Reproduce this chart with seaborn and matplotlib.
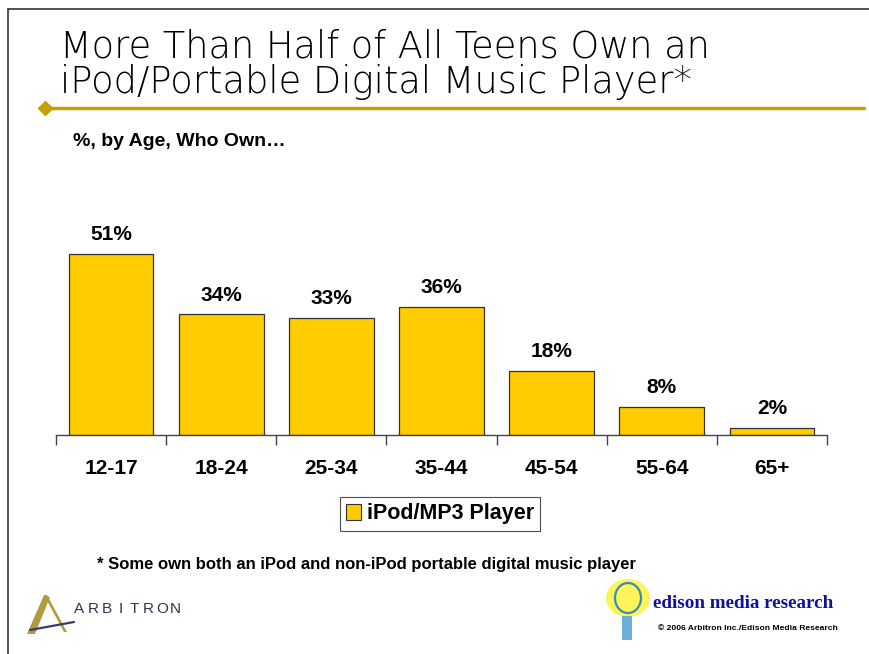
import matplotlib
matplotlib.use("Agg")
import matplotlib.pyplot as plt
from matplotlib.patches import Rectangle, Polygon, Ellipse
from matplotlib.lines import Line2D
import seaborn as sns
import pandas as pd

# chart data
ages = ["12-17", "18-24", "25-34", "35-44", "45-54", "55-64", "65+"]
owners = [51, 34, 33, 36, 18, 8, 2]
series_name = "iPod/MP3 Player"

title_lines = ["More Than Half of All Teens Own an", "iPod/Portable Digital Music Player*"]
subtitle_text = "%, by Age, Who Own\u2026"
footnote_text = "* Some own both an iPod and non-iPod portable digital music player"

df = pd.DataFrame({"Age": ages, "Pct": owners})

sns.set_style("white")
plt.rcParams["font.family"] = ["Liberation Sans", "DejaVu Sans"]
plt.rcParams["text.color"] = "black"
plt.rcParams["xtick.color"] = "black"

W, H = 869, 654
fig = plt.figure(figsize=(W / 100, H / 100), dpi=100)

def fx(px):
    return px / W

def fy(py):
    return 1 - py / H

# plot area
ax = fig.add_axes([fx(56), fy(435), fx(827) - fx(56), fy(222) - fy(435)])
sns.barplot(data=df, x="Age", y="Pct", color="#FFCC00", width=0.77,
            edgecolor="#333333", linewidth=0.9, saturation=1, ax=ax)
ax.set_ylim(0, 60)
ax.set_xlim(-0.5, len(ages) - 0.5)
ax.set_xlabel("")
ax.set_ylabel("")
ax.set_yticks([])
for s in ["top", "right", "left"]:
    ax.spines[s].set_visible(False)
ax.spines["bottom"].set_color("#444444")
ax.spines["bottom"].set_linewidth(1.0)

ax.set_xticks(range(len(ages)))
ax.set_xticklabels(ages, fontsize=15, fontweight="bold")
ax.tick_params(axis="x", which="major", length=0, pad=17, labelcolor="black")
ax.set_xticks([i - 0.5 for i in range(len(ages) + 1)], minor=True)
ax.tick_params(axis="x", which="minor", bottom=True, length=7, width=1.0,
               color="#444444", direction="out")

for i, v in enumerate(owners):
    ax.annotate(f"{v}%", (i, v), xytext=(0, 7), textcoords="offset points",
                ha="center", va="bottom", fontsize=15, fontweight="bold")

# legend
handle = Rectangle((0, 0), 1, 1, facecolor="#FFCC00", edgecolor="#333333", linewidth=0.8)
leg = fig.legend([handle], [series_name], loc="center", bbox_to_anchor=(fx(440), fy(514)),
                 frameon=True, fancybox=False, prop={"weight": "bold", "size": 15.5},
                 handlelength=0.7, handleheight=0.7, handletextpad=0.25,
                 borderpad=0.3, borderaxespad=0)
leg.get_frame().set_edgecolor("#222222")
leg.get_frame().set_linewidth(0.8)

# slide frame
fig.add_artist(Line2D([fx(8), 1], [fy(9), fy(9)], color="#333333", lw=1.2))
fig.add_artist(Line2D([fx(8), fx(8)], [fy(9), 0], color="#333333", lw=1.2))

# title and gold rule
fig.text(fx(60), fy(58), title_lines[0], fontsize=26.5, va="baseline", ha="left",
         family=["DejaVu Sans"], fontweight="light", color="#000000")
fig.text(fx(60), fy(93), title_lines[1], fontsize=26.5, va="baseline", ha="left",
         family=["DejaVu Sans"], fontweight="light", color="#000000")
fig.add_artist(Line2D([fx(45), fx(864)], [fy(108), fy(108)], color="#C4A000", lw=2.5))
fig.add_artist(Line2D([fx(45)], [fy(108)], marker="D", markersize=7,
                      color="#C4A000"))
fig.text(fx(73), fy(141), subtitle_text, fontsize=14, fontweight="bold",
         va="center", ha="left")

fig.text(fx(97), fy(565), footnote_text, fontsize=12, fontweight="bold",
         va="center", ha="left")

# Arbitron logo
fig.add_artist(Polygon([[fx(27), fy(634)], [fx(44), fy(595)], [fx(50), fy(597)],
                        [fx(35), fy(634)]], closed=True, facecolor="#B59A3C",
                       edgecolor="none"))
fig.add_artist(Polygon([[fx(44), fy(595)], [fx(47), fy(595)], [fx(67), fy(632)],
                        [fx(64), fy(632)]], closed=True, facecolor="#B59A3C",
                       edgecolor="none"))
fig.add_artist(Line2D([fx(30), fx(74)], [fy(630), fy(622)], color="#3A3A70", lw=1.6))
for k, ch in enumerate("ARBITRON"):
    fig.text(fx(79 + k * 13.8), fy(609), ch, fontsize=11, color="#33334F",
             va="center", ha="center")

# Edison logo
fig.add_artist(Ellipse((fx(628), fy(598)), fx(44), 38 / H, facecolor="#FFF45A",
                       edgecolor="none"))
fig.add_artist(Ellipse((fx(628), fy(598)), fx(26), 30 / H, facecolor="none",
                       edgecolor="#3A8FB0", lw=1.6))
fig.add_artist(Rectangle((fx(622), fy(640)), fx(10), 24 / H, facecolor="#6AB0D8",
                         edgecolor="none"))
fig.text(fx(653), fy(604), "edison media research", fontsize=13.8, fontweight="bold",
         color="#1010A0", family=["Liberation Serif", "DejaVu Serif"],
         va="center", ha="left")
fig.text(fx(658), fy(629), "\u00a9 2006 Arbitron Inc./Edison Media Research",
         fontsize=6.1, fontweight="bold", va="center", ha="left")

fig.savefig("out.png", dpi=100)
